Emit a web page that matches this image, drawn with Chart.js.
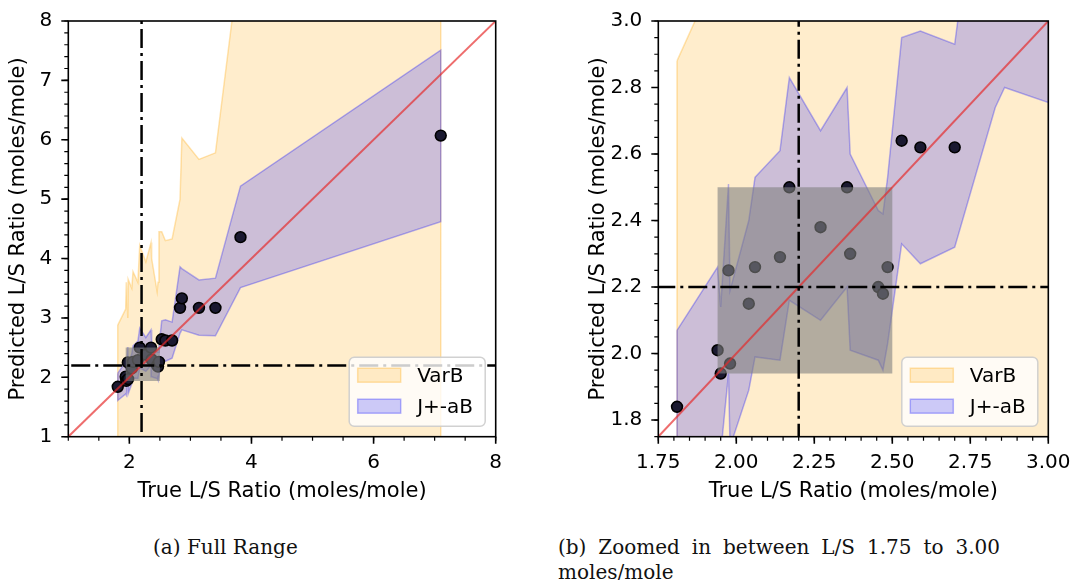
<!DOCTYPE html>
<html>
<head>
<meta charset="utf-8">
<script src="https://cdn.jsdelivr.net/npm/chart.js@4.4.1/dist/chart.umd.min.js"></script>
<style>
  body { margin: 0; background: #fff; width: 1073px; height: 580px; position: relative; overflow: hidden; }
  canvas { position: absolute; top: 0; }
  #fullChart { left: 0; }
  #zoomChart { left: 540px; }
  .caption { position: absolute; font-family: 'DejaVu Serif', serif; font-size: 20px; line-height: 25px; color: #111; }
  #capA { left: 153px; top: 535px; }
  #capB { left: 558px; top: 535px; width: 442px; text-align: justify; }
</style>
</head>
<body>
<canvas id="fullChart" width="540" height="510" style="width:540px;height:510px"></canvas>
<canvas id="zoomChart" width="538" height="510" style="width:538px;height:510px"></canvas>
<div class="caption" id="capA">(a) Full Range</div>
<div class="caption" id="capB">(b) Zoomed in between L/S 1.75 to 3.00 moles/mole</div>

<script>
// true vs predicted L/S ratio, sorted by true value
const trueLS = [1.81, 1.94, 1.95, 1.975, 1.98, 2.04, 2.06, 2.14, 2.17, 2.27, 2.355, 2.365,
  2.455, 2.47, 2.485, 2.53, 2.59, 2.70, 2.83, 2.86, 3.14, 3.41, 3.82, 7.10]
const predLS = [1.84, 2.01, 1.94, 2.25, 1.97, 2.15, 2.26, 2.29, 2.50, 2.38, 2.50, 2.30,
  2.20, 2.18, 2.26, 2.64, 2.62, 2.62, 3.17, 3.33, 3.17, 3.17, 4.36, 6.07]

// VarB interval
const varbUpper = [2.88, 3.15, 3.60, 3.00, 3.65, 3.50, 3.78, 3.60, 4.22, 3.94, 4.27, 4.00,
  3.44, 3.60, 4.45, 4.45, 4.30, 4.33, 5.00, 6.03, 5.67, 5.78, 9.15, 9.50]
const varbLower = [0.62, 0.58, 0.55, 0.60, 0.52, 0.50, 0.57, 0.48, 0.45, 0.50, 0.43, 0.47,
  0.52, 0.49, 0.40, 0.38, 0.41, 0.35, 0.30, 0.28, 0.25, 0.22, 0.15, 0.05]

// J+-aB interval
const jabUpper = [2.07, 2.26, 2.14, 2.51, 2.19, 2.40, 2.53, 2.61, 2.83, 2.67, 2.80, 2.60,
  2.43, 2.42, 2.53, 2.95, 2.97, 2.93, 3.86, 3.83, 3.64, 3.67, 5.22, 7.51]
const jabLower = [1.61, 1.72, 1.70, 1.94, 1.72, 1.89, 1.99, 1.98, 2.16, 2.10, 2.20, 2.01,
  1.98, 1.95, 2.03, 2.33, 2.27, 2.32, 2.74, 2.80, 2.71, 2.70, 3.51, 4.62]

// reference threshold and zoom box
const thresholdLS = 2.2
const boxRange = [1.94, 2.5]
const identityRange = [0, 10]

const fullXTicks = [2, 4, 6, 8]
const fullYTicks = [1, 2, 3, 4, 5, 6, 7, 8]
const zoomXTicks = [1.75, 2.00, 2.25, 2.50, 2.75, 3.00]
const zoomYTicks = [1.8, 2.0, 2.2, 2.4, 2.6, 2.8, 3.0]

const varbFill = 'rgba(255,165,0,0.2)'
const varbEdge = 'rgba(255,165,0,0.3)'
const jabFill = 'rgba(0,0,255,0.2)'
const jabEdge = 'rgba(0,0,255,0.28)'

Chart.defaults.font.family = '"DejaVu Sans", sans-serif'
Chart.defaults.font.size = 20
Chart.defaults.color = '#000'

const bandPolygon = (xs, hi, lo) => {
  const pts = xs.map((x, i) => ({ x, y: hi[i] }))
  for (let i = xs.length - 1; i >= 0; i--) pts.push({ x: xs[i], y: lo[i] })
  pts.push({ x: xs[0], y: hi[0] })
  return pts
}

const makeDatasets = () => [
  {
    label: 'VarB', inLegend: true,
    data: bandPolygon(trueLS, varbUpper, varbLower),
    backgroundColor: varbFill, borderColor: varbEdge, borderWidth: 1.5,
    fill: 'shape', pointRadius: 0, order: 7
  },
  {
    label: 'J+-aB', inLegend: true,
    data: bandPolygon(trueLS, jabUpper, jabLower),
    backgroundColor: jabFill, borderColor: jabEdge, borderWidth: 1.5,
    fill: 'shape', pointRadius: 0, order: 6
  },
  {
    label: 'points',
    data: trueLS.map((x, i) => ({ x, y: predLS[i] })),
    showLine: false, pointRadius: 5.4, pointBorderWidth: 1.6,
    pointBackgroundColor: '#1a1930', pointBorderColor: '#000', order: 5
  },
  {
    label: 'box',
    data: [
      { x: boxRange[0], y: boxRange[0] }, { x: boxRange[1], y: boxRange[0] },
      { x: boxRange[1], y: boxRange[1] }, { x: boxRange[0], y: boxRange[1] },
      { x: boxRange[0], y: boxRange[0] }
    ],
    backgroundColor: 'rgba(128,128,128,0.6)', borderWidth: 0, borderColor: 'rgba(0,0,0,0)',
    fill: 'shape', pointRadius: 0, order: 4
  },
  {
    label: 'identity',
    data: identityRange.map(v => ({ x: v, y: v })),
    borderColor: 'rgba(230,40,40,0.68)', borderWidth: 2, pointRadius: 0, fill: false, order: 3
  },
  {
    label: 'vline',
    data: identityRange.map(v => ({ x: thresholdLS, y: v })),
    borderColor: '#000', borderWidth: 2.5, borderDash: [19, 5, 3, 5],
    pointRadius: 0, fill: false, order: 2
  },
  {
    label: 'hline',
    data: identityRange.map(v => ({ x: v, y: thresholdLS })),
    borderColor: '#000', borderWidth: 2.5, borderDash: [19, 5, 3, 5],
    pointRadius: 0, fill: false, order: 1
  }
]

// frame + major/minor tick marks on bottom and left
const axisDecor = {
  id: 'axisDecor',
  afterDatasetsDraw(chart, args, opts) {
    const { ctx, chartArea: a, scales: { x, y } } = chart
    ctx.save()
    ctx.strokeStyle = '#000'
    const minorVals = (min, max, step) => {
      const out = []
      for (let k = Math.ceil(min / step - 1e-9); k * step <= max + 1e-9; k++) out.push(k * step)
      return out
    }
    ctx.lineWidth = 1.2
    ctx.beginPath()
    minorVals(x.min, x.max, opts.xMinor).forEach(v => {
      const px = x.getPixelForValue(v)
      ctx.moveTo(px, a.bottom); ctx.lineTo(px, a.bottom + 4)
    })
    minorVals(y.min, y.max, opts.yMinor).forEach(v => {
      const py = y.getPixelForValue(v)
      ctx.moveTo(a.left, py); ctx.lineTo(a.left - 4, py)
    })
    ctx.stroke()
    ctx.lineWidth = 1.6
    ctx.beginPath()
    x.ticks.forEach(t => {
      const px = x.getPixelForValue(t.value)
      ctx.moveTo(px, a.bottom); ctx.lineTo(px, a.bottom + 7)
    })
    y.ticks.forEach(t => {
      const py = y.getPixelForValue(t.value)
      ctx.moveTo(a.left, py); ctx.lineTo(a.left - 7, py)
    })
    ctx.stroke()
    ctx.strokeRect(a.left, a.top, a.right - a.left, a.bottom - a.top)
    ctx.restore()
  }
}

// matplotlib-like legend in lower right corner
const boxLegend = {
  id: 'boxLegend',
  afterDraw(chart) {
    const { ctx, chartArea: a } = chart
    const items = chart.data.datasets.filter(d => d.inLegend)
    const w = 136, h = 69, r = 5
    const left = a.right - 10.5 - w, top = a.bottom - 10.5 - h
    ctx.save()
    ctx.beginPath()
    ctx.roundRect(left, top, w, h, r)
    ctx.fillStyle = 'rgba(255,255,255,0.8)'
    ctx.fill()
    ctx.strokeStyle = 'rgba(204,204,204,0.9)'
    ctx.lineWidth = 1.5
    ctx.stroke()
    items.forEach((it, i) => {
      const cy = top + 18 + i * 31
      ctx.fillStyle = it.backgroundColor
      ctx.fillRect(left + 8.5, cy - 7, 43, 14)
      ctx.strokeStyle = it.borderColor
      ctx.lineWidth = 1.5
      ctx.strokeRect(left + 8.5, cy - 7, 43, 14)
      ctx.fillStyle = '#000'
      ctx.font = '20px "DejaVu Sans"'
      ctx.textBaseline = 'middle'
      ctx.textAlign = 'left'
      ctx.fillText(it.label, left + 68, cy + 1.5)
    })
    ctx.restore()
  }
}

const makeChart = (canvasId, cfg) => {
  const tickScale = (min, max, ticks, fmt, fit) => ({
    type: 'linear', min, max,
    afterBuildTicks: s => { s.ticks = ticks.map(v => ({ value: v })) },
    afterFit: fit,
    grid: { drawOnChartArea: false, drawTicks: true, tickLength: 7, tickColor: 'rgba(0,0,0,0)' },
    border: { display: false },
    ticks: { autoSkip: false, maxRotation: 0, padding: 7, callback: fmt, font: { size: 20 } },
    title: { display: true, font: { size: 21 }, padding: { top: 4, bottom: 4 } }
  })

  const xScale = tickScale(cfg.xMin, cfg.xMax, cfg.xTicks, cfg.fmtX, s => { s.height = 71.3 })
  xScale.title.text = 'True L/S Ratio (moles/mole)'
  const yScale = tickScale(cfg.yMin, cfg.yMax, cfg.yTicks, cfg.fmtY, s => { s.width = cfg.yWidth })
  yScale.title.text = 'Predicted L/S Ratio (moles/mole)'
  yScale.ticks.padding = 9

  return new Chart(document.getElementById(canvasId), {
    type: 'line',
    data: { datasets: makeDatasets() },
    options: {
      responsive: false,
      animation: false,
      events: [],
      layout: { padding: { left: cfg.padLeft, right: cfg.padRight, top: 17, bottom: 2 } },
      scales: { x: xScale, y: yScale },
      plugins: {
        legend: { display: false },
        tooltip: { enabled: false },
        axisDecor: { xMinor: cfg.xMinor, yMinor: cfg.yMinor }
      }
    },
    plugins: [axisDecor, boxLegend]
  })
}

makeChart('fullChart', {
  xMin: 1, xMax: 8, yMin: 1, yMax: 8,
  xTicks: fullXTicks, yTicks: fullYTicks,
  fmtX: v => String(v), fmtY: v => String(v),
  xMinor: 0.5, yMinor: 0.2,
  padLeft: 2, padRight: 44.3, yWidth: 66.3
})

makeChart('zoomChart', {
  xMin: 1.75, xMax: 3.0, yMin: 1.75, yMax: 3.0,
  xTicks: zoomXTicks, yTicks: zoomYTicks,
  fmtX: v => v.toFixed(2), fmtY: v => v.toFixed(1),
  xMinor: 0.05, yMinor: 0.05,
  padLeft: 42, padRight: 29.7, yWidth: 76.3
})
</script>
</body>
</html>
